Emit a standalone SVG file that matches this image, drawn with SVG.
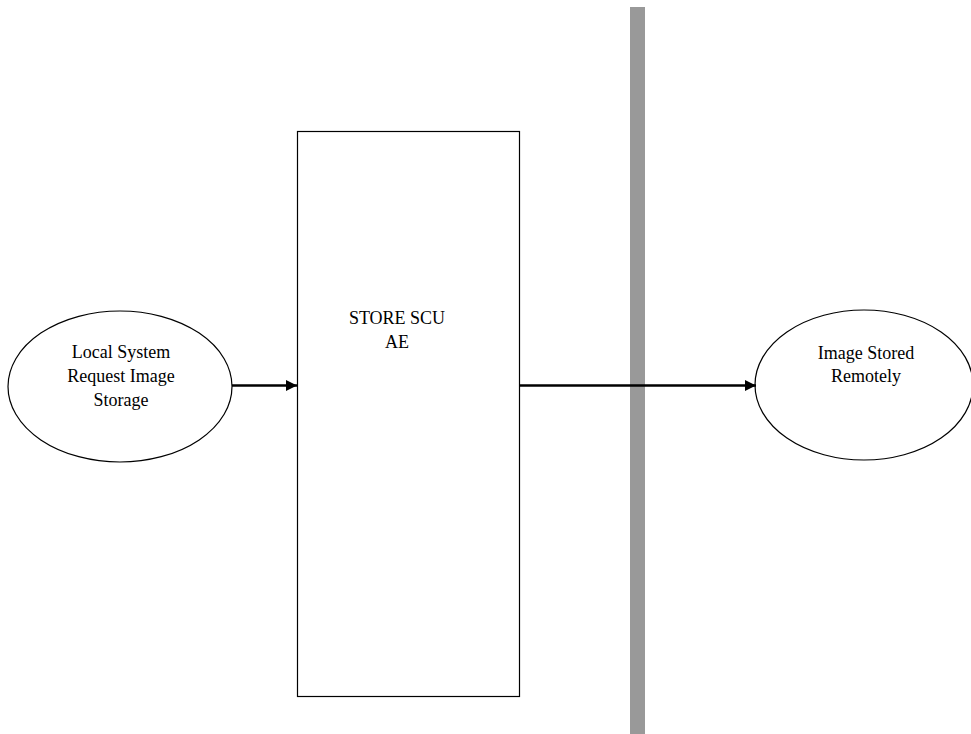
<svg xmlns="http://www.w3.org/2000/svg" width="971" height="734" viewBox="0 0 971 734">
  <defs>
    <marker id="arrow" viewBox="0 0 10 10" refX="10" refY="5" markerWidth="4.5" markerHeight="4.5" markerUnits="strokeWidth" orient="auto">
      <path d="M0,0 L10,5 L0,10 z" fill="#000"/>
    </marker>
    <style>
      .shape { fill: #fff; stroke: #000; stroke-width: 1.2; }
      .label { font-family: "Liberation Serif", "Times New Roman", serif; font-size: 18px; fill: #000; text-anchor: middle; }
      .conn { stroke: #000; stroke-width: 2.5; fill: none; marker-end: url(#arrow); }
    </style>
  </defs>
  <rect width="971" height="734" fill="#fff"/>

  <!-- system boundary -->
  <rect id="boundary" x="630" y="7" width="15" height="727" fill="#999"/>

  <g id="local-request">
    <ellipse class="shape" cx="120" cy="386.5" rx="112" ry="75.5"/>
    <text class="label" x="121" y="358">Local System</text>
    <text class="label" x="121" y="382">Request Image</text>
    <text class="label" x="121" y="406">Storage</text>
  </g>

  <g id="store-scu">
    <rect class="shape" x="297.5" y="131.5" width="222" height="565"/>
    <text class="label" x="397" y="324">STORE SCU</text>
    <text class="label" x="397" y="348">AE</text>
  </g>

  <g id="image-stored">
    <ellipse class="shape" cx="864" cy="385" rx="109" ry="75"/>
    <text class="label" x="866" y="359">Image Stored</text>
    <text class="label" x="866" y="382">Remotely</text>
  </g>

  <g id="connectors">
    <line class="conn" x1="232" y1="385.5" x2="297" y2="385.5"/>
    <line class="conn" x1="520" y1="385.5" x2="756" y2="385.5"/>
  </g>
</svg>
